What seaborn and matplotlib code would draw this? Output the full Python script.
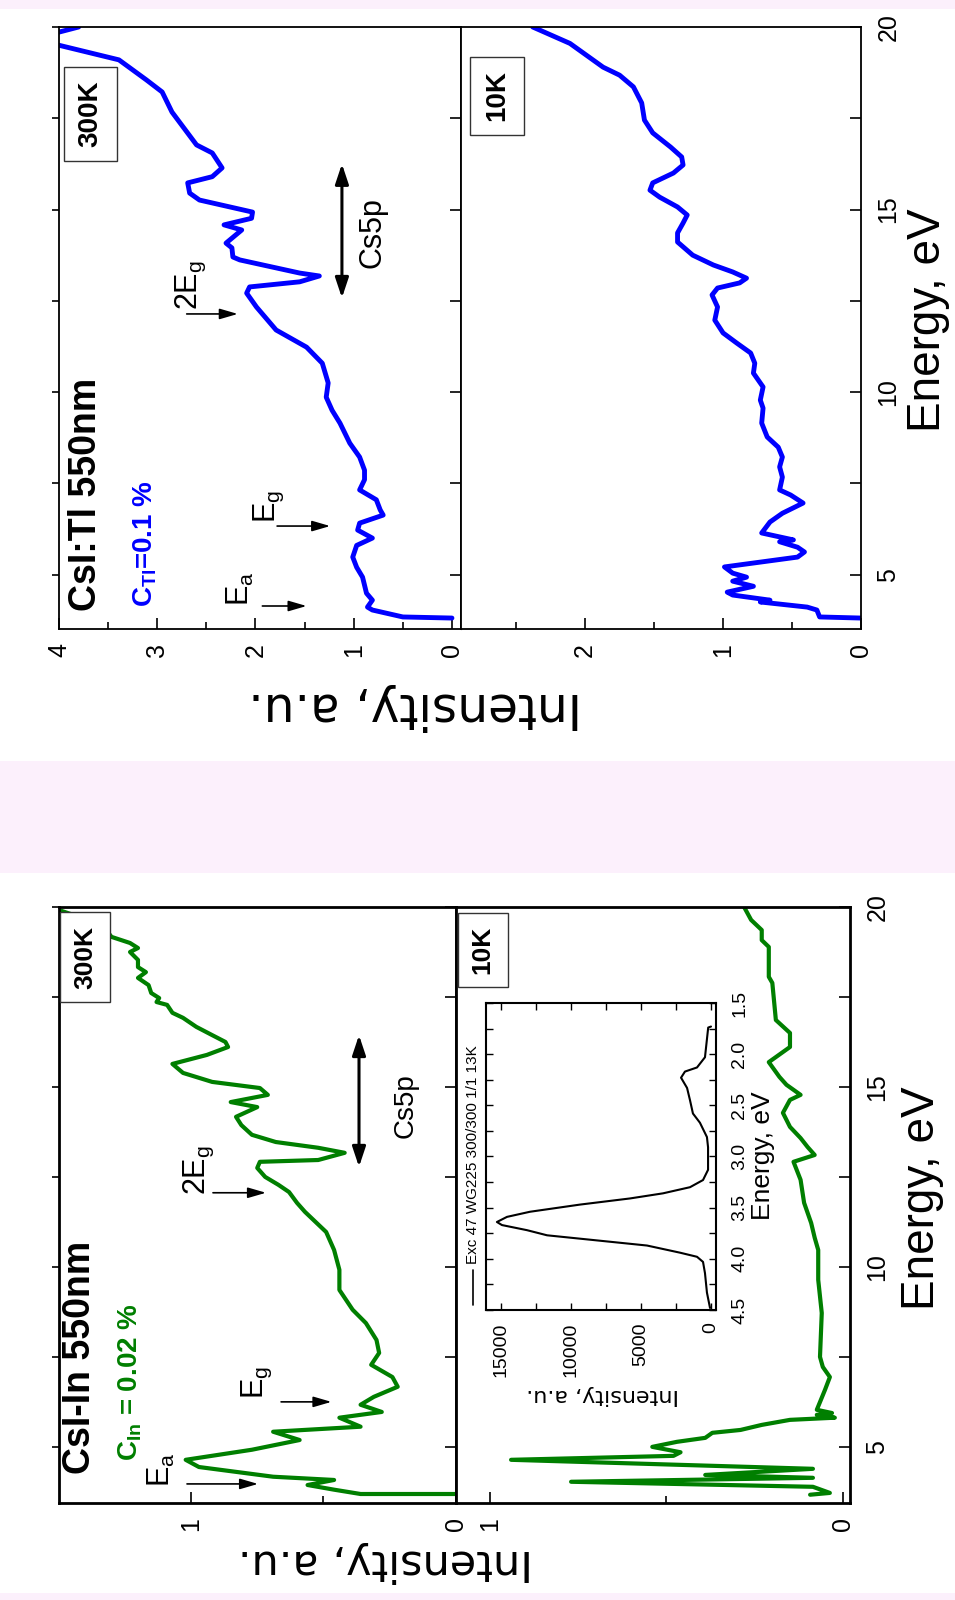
import matplotlib
matplotlib.use("Agg")
import matplotlib.pyplot as plt
import seaborn as sns
from matplotlib.patches import Rectangle
from matplotlib.lines import Line2D
from matplotlib.ticker import MultipleLocator, FixedLocator, FormatStrFormatter

# ---------------- data ----------------
# CsI:Tl, 300 K  (energy eV, intensity a.u.)
tl300_E = [20.0, 19.86, 19.68, 19.5, 19.1, 18.55, 18.22, 17.67, 16.77, 16.55, 16.14, 15.9, 15.73, 15.45, 15.26,
           14.93, 14.76, 14.58, 14.44, 14.08, 13.95, 13.7, 13.62, 13.26, 13.18, 13.02, 12.88, 12.71, 12.33, 11.7,
           11.23, 10.79, 10.25, 9.86, 9.5, 9.15, 8.6, 8.22, 7.86, 7.6, 7.32, 7.05, 6.77, 6.63, 6.41,
           6.22, 6.0, 5.8, 5.48, 5.2, 4.93, 4.49, 4.3, 4.11, 4.03, 3.84, 3.81]
tl300_I = [3.8, 4.0, 4.4, 4.0, 3.39, 3.11, 2.95, 2.85, 2.60, 2.44, 2.34, 2.44, 2.69, 2.67, 2.57,
           2.03, 2.04, 2.32, 2.14, 2.30, 2.24, 2.23, 2.16, 1.55, 1.35, 1.55, 2.06, 2.09, 1.99, 1.79,
           1.48, 1.32, 1.26, 1.28, 1.22, 1.14, 1.04, 0.94, 0.89, 0.89, 0.94, 0.77, 0.73, 0.70, 0.94,
           0.96, 0.81, 0.97, 1.01, 0.97, 0.91, 0.87, 0.81, 0.86, 0.81, 0.50, 0.0]

# CsI:Tl, 10 K
tl10_E = [20.0, 19.55, 18.9, 18.68, 18.36, 17.92, 17.45, 17.1, 16.71, 16.44, 16.22, 16.0, 15.73, 15.53, 15.34,
          15.07, 14.85, 14.63, 14.36, 14.11, 13.75, 13.48, 13.29, 13.12, 12.99, 12.85, 12.66, 12.33, 11.97, 11.62,
          11.34, 11.07, 10.79, 10.52, 10.14, 9.78, 9.56, 9.15, 8.77, 8.49, 8.22, 7.95, 7.67, 7.32, 7.18,
          6.96, 6.68, 6.44, 6.14, 5.95, 5.9, 5.75, 5.62, 5.48, 5.21, 5.04, 4.93, 4.82, 4.68, 4.52,
          4.44, 4.30, 4.25, 4.11, 4.03, 3.84, 3.81]
tl10_I = [2.38, 2.11, 1.87, 1.75, 1.65, 1.59, 1.57, 1.51, 1.38, 1.30, 1.29, 1.36, 1.51, 1.53, 1.46,
          1.33, 1.26, 1.29, 1.33, 1.33, 1.22, 1.07, 0.93, 0.83, 0.88, 1.04, 1.08, 1.04, 1.06, 1.0,
          0.90, 0.80, 0.77, 0.78, 0.71, 0.73, 0.71, 0.72, 0.68, 0.60, 0.57, 0.59, 0.57, 0.59, 0.51,
          0.42, 0.57, 0.66, 0.72, 0.49, 0.59, 0.46, 0.41, 0.46, 0.99, 0.93, 0.83, 0.93, 0.78, 0.97,
          0.93, 0.66, 0.73, 0.39, 0.32, 0.30, 0.0]

# CsI-In, 300 K
in300_E = [20.0, 19.92, 19.72, 19.36, 19.17, 19.0, 18.86, 18.75, 18.53, 18.33, 18.19, 18.03, 17.83, 17.61, 17.47,
           17.36, 17.28, 17.06, 16.92, 16.67, 16.44, 16.25, 16.11, 15.89, 15.64, 15.39, 15.14, 14.97, 14.78, 14.58,
           14.44, 14.17, 13.94, 13.67, 13.47, 13.31, 13.17, 12.97, 12.92, 12.75, 12.5, 12.28, 12.08, 11.78, 11.53,
           10.97, 10.47, 9.92, 9.36, 8.81, 8.44, 7.97, 7.61, 7.28, 6.94, 6.67, 6.39, 6.17, 5.97, 5.81,
           5.56, 5.42, 5.19, 4.92, 4.64, 4.44, 4.17, 4.08, 3.94, 3.81, 3.69, 3.69]
in300_I = [1.52, 1.50, 1.42, 1.32, 1.30, 1.23, 1.20, 1.23, 1.20, 1.20, 1.17, 1.20, 1.16, 1.15, 1.12,
           1.13, 1.09, 1.07, 1.03, 0.98, 0.92, 0.87, 0.86, 0.94, 1.07, 1.03, 0.92, 0.74, 0.71, 0.85,
           0.75, 0.83, 0.81, 0.77, 0.68, 0.52, 0.42, 0.52, 0.74, 0.75, 0.72, 0.67, 0.63, 0.60, 0.57,
           0.49, 0.46, 0.44, 0.44, 0.39, 0.34, 0.30, 0.29, 0.32, 0.24, 0.22, 0.31, 0.36, 0.28, 0.44,
           0.36, 0.69, 0.59, 0.77, 1.02, 0.97, 0.69, 0.46, 0.56, 0.46, 0.36, 0.0]

# CsI-In, 10 K
in10_E = [20.0, 19.64, 19.36, 19.08, 18.89, 18.06, 17.89, 16.86, 16.5, 16.11, 15.69, 15.28, 15.06, 14.78, 14.64,
          14.28, 13.89, 13.58, 13.33, 13.11, 12.92, 12.42, 11.78, 11.22, 10.81, 10.47, 9.64, 8.72, 7.5, 7.22,
          6.94, 6.58, 6.03, 5.94, 5.89, 5.81, 5.75, 5.61, 5.47, 5.39, 5.25, 5.14, 5.0, 4.85, 4.75,
          4.64, 4.39, 4.22, 4.14, 4.03, 3.89, 3.72, 3.67]
in10_I = [0.28, 0.26, 0.23, 0.23, 0.21, 0.21, 0.20, 0.19, 0.15, 0.15, 0.21, 0.18, 0.16, 0.12, 0.15,
          0.17, 0.15, 0.12, 0.10, 0.08, 0.14, 0.12, 0.11, 0.09, 0.08, 0.07, 0.07, 0.06, 0.065, 0.057,
          0.037, 0.051, 0.074, 0.031, 0.074, 0.023, 0.15, 0.23, 0.29, 0.37, 0.39, 0.47, 0.54, 0.46, 0.48,
          0.94, 0.085, 0.39, 0.085, 0.77, 0.085, 0.037, 0.093]

# inset: luminescence spectrum "Exc 47 WG225 300/300 1/1 13K"
inset_E = [1.73, 1.74, 2.03, 2.13, 2.17, 2.23, 2.33, 2.45, 2.58, 2.67, 2.81, 2.91, 3.13, 3.23, 3.30, 3.36,
           3.41, 3.47, 3.54, 3.59, 3.64, 3.67, 3.72, 3.77, 3.82, 3.87, 3.94, 3.98, 4.03, 4.14, 4.33, 4.48]
inset_I = [0, 200, 430, 1000, 1860, 2140, 1710, 1500, 1290, 790, 290, 210, 210, 570, 1500, 3430,
           5790, 9360, 12930, 14570, 15290, 14930, 13140, 11710, 8140, 4570, 2210, 1000, 570, 430, 290, 70]

tl_int_ticks = [0, 1, 2, 3, 4]
tl10_int_ticks = [0, 1, 2]
in_int_ticks = [0, 1]
inset_int_ticks = [0, 5000, 10000, 15000]

# ---------------- style ----------------
sns.set_style("ticks")
plt.rcParams.update({
    "font.family": ["Liberation Sans", "DejaVu Sans"],
    "mathtext.fontset": "custom",
    "mathtext.rm": "Liberation Sans",
    "mathtext.bf": "Liberation Sans:bold",
    "mathtext.it": "Liberation Sans:italic",
    "axes.edgecolor": "black",
    "xtick.color": "black",
    "ytick.color": "black",
    "text.color": "black",
})

W, H = 955, 1600
fig = plt.figure(figsize=(W / 100, H / 100), dpi=100, facecolor="#fcf0fc")


def rect(x0, y0, x1, y1):
    return [x0 / W, 1 - y1 / H, (x1 - x0) / W, (y1 - y0) / H]


def fpos(px, py):
    return px / W, 1 - py / H


fig.add_artist(Rectangle((0, 1 - 761 / H), 1, (761 - 9) / H, transform=fig.transFigure,
                         fc="white", ec="none", zorder=0))
fig.add_artist(Rectangle((0, 1 - 1593 / H), 1, (1593 - 873) / H, transform=fig.transFigure,
                         fc="white", ec="none", zorder=0))

ax_tl = fig.add_axes(rect(59, 27, 461, 629))
ax_tr = fig.add_axes(rect(461, 27, 861, 629))
ax_bl = fig.add_axes(rect(59, 907, 456, 1503))
ax_br = fig.add_axes(rect(456, 907, 850, 1503))
ax_in = fig.add_axes(rect(486, 1003, 716, 1310))

BLUE = "#0000ff"
GREEN = "#007f00"
line_kw = dict(sort=False, estimator=None, solid_joinstyle="round", solid_capstyle="round")

sns.lineplot(x=tl300_I, y=tl300_E, color=BLUE, lw=3.5, ax=ax_tl, **line_kw)
sns.lineplot(x=tl10_I, y=tl10_E, color=BLUE, lw=3.5, ax=ax_tr, **line_kw)
sns.lineplot(x=in300_I, y=in300_E, color=GREEN, lw=3.0, ax=ax_bl, **line_kw)
sns.lineplot(x=in10_I, y=in10_E, color=GREEN, lw=3.0, ax=ax_br, **line_kw)
sns.lineplot(x=inset_I, y=inset_E, color="black", lw=1.5, ax=ax_in, **line_kw)


def base(ax, xlim, ylim, xmajor, spine_lw):
    ax.set_xlim(*xlim)
    ax.set_ylim(*ylim)
    ax.set_xlabel("")
    ax.set_ylabel("")
    for s in ax.spines.values():
        s.set_linewidth(spine_lw)
        s.set_color("black")
    ax.xaxis.set_major_locator(FixedLocator(xmajor))
    ax.xaxis.set_minor_locator(MultipleLocator(0.5))
    ax.xaxis.set_major_formatter(FormatStrFormatter("%d"))
    ax.tick_params(axis="x", which="both", direction="in", bottom=True, top=False,
                   labelbottom=True, labelrotation=90, pad=10, labelsize=18, width=1.2)
    ax.tick_params(axis="x", which="major", length=8)
    ax.tick_params(axis="x", which="minor", length=5)
    ax.yaxis.set_major_locator(MultipleLocator(5))
    ax.yaxis.set_minor_locator(MultipleLocator(2.5))
    ax.yaxis.set_major_formatter(FormatStrFormatter("%d"))


def left_panel(ax):
    ax.tick_params(axis="y", which="both", direction="out", left=True, right=False,
                   labelleft=False, length=5, width=1.2)
    sec = ax.secondary_yaxis("right")
    sec.yaxis.set_major_locator(MultipleLocator(5))
    sec.yaxis.set_minor_locator(MultipleLocator(2.5))
    sec.tick_params(axis="y", which="both", direction="in", length=8, width=1.2,
                    labelright=False)


def right_panel(ax):
    ax.tick_params(axis="y", which="both", direction="in", left=False, right=True,
                   labelleft=False, labelright=True, labelrotation=90, pad=11,
                   labelsize=18, length=8, width=1.2)
    plt.setp(ax.get_yticklabels(), va="center")


base(ax_tl, (4, -0.092), (3.51, 20), tl_int_ticks, 1.3)
base(ax_tr, (2.90, 0), (3.51, 20), tl10_int_ticks, 1.3)
base(ax_bl, (1.498, 0), (3.44, 20), in_int_ticks, 2.0)
base(ax_br, (1.096, -0.02), (3.44, 20), in_int_ticks, 2.0)
left_panel(ax_tl)
left_panel(ax_bl)
right_panel(ax_tr)
right_panel(ax_br)

# inset axes
ax_in.set_xlim(16070, -357)
ax_in.set_ylim(4.5, 1.5)
ax_in.set_xlabel("")
ax_in.set_ylabel("")
for s in ax_in.spines.values():
    s.set_linewidth(1.5)
    s.set_color("black")
ax_in.xaxis.set_major_locator(FixedLocator(inset_int_ticks))
ax_in.xaxis.set_minor_locator(MultipleLocator(2500))
ax_in.xaxis.set_major_formatter(FormatStrFormatter("%d"))
ax_in.yaxis.set_major_locator(MultipleLocator(0.5))
ax_in.yaxis.set_minor_locator(MultipleLocator(0.25))
ax_in.yaxis.set_major_formatter(FormatStrFormatter("%.1f"))
ax_in.tick_params(axis="both", which="both", direction="in", top=True, bottom=True,
                  left=True, right=True, labelleft=False, labelright=True,
                  labelbottom=True, labeltop=False, labelrotation=90, labelsize=14,
                  width=1.0, length=5)
ax_in.tick_params(axis="x", pad=9)
ax_in.tick_params(axis="y", pad=11)
plt.setp(ax_in.get_yticklabels(), va="center")


# ---------------- annotations ----------------
def label_box(ax, x, y, s, size):
    ax.text(x, y, s, rotation=90, ha="center", va="center", fontsize=size, fontweight="bold",
            bbox=dict(boxstyle="square,pad=0.5", fc="white", ec="#333333", lw=1.0), zorder=5)


def arrow(ax, x0, x1, y):
    ax.annotate("", xy=(x1, y), xytext=(x0, y),
                arrowprops=dict(arrowstyle="-|>,head_length=0.55,head_width=0.16", color="k",
                                lw=1.2, shrinkA=0, shrinkB=0, mutation_scale=20))


def darrow(ax, x, y0, y1):
    ax.annotate("", xy=(x, y1), xytext=(x, y0),
                arrowprops=dict(arrowstyle="<|-|>,head_length=0.6,head_width=0.2", color="k",
                                lw=2.2, shrinkA=0, shrinkB=0, mutation_scale=20))


def rtext(ax, x, y, s, size, **kw):
    ax.text(x, y, s, rotation=90, ha="center", va="center", fontsize=size, **kw)


# CsI:Tl 300K
label_box(ax_tl, 3.68, 17.62, "300K", 20)
rtext(ax_tl, 3.73, 7.21, "CsI:Tl 550nm", 27, fontweight="bold")
rtext(ax_tl, 3.12, 5.84, r"C$_{\mathbf{Tl}}$=0.1 %", 20, fontweight="bold", color=BLUE)
rtext(ax_tl, 2.15, 4.60, r"E$_\mathrm{a}$", 22)
arrow(ax_tl, 1.93, 1.48, 4.14)
rtext(ax_tl, 1.86, 6.88, r"E$_\mathrm{g}$", 22)
arrow(ax_tl, 1.78, 1.24, 6.33)
rtext(ax_tl, 2.66, 12.93, r"2E$_\mathrm{g}$", 22)
arrow(ax_tl, 2.70, 2.18, 12.14)
darrow(ax_tl, 1.12, 12.58, 16.25)
rtext(ax_tl, 0.81, 14.38, "Cs5p", 22)

# CsI:Tl 10K
label_box(ax_tr, 2.64, 18.11, "10K", 20)

# CsI-In 300K
label_box(ax_bl, 1.40, 18.61, "300K", 19)
rtext(ax_bl, 1.42, 7.5, "CsI-In 550nm", 27, fontweight="bold")
rtext(ax_bl, 1.23, 6.81, r"C$_{\mathbf{In}}$ = 0.02 %", 20, fontweight="bold", color=GREEN)
rtext(ax_bl, 1.11, 4.36, r"E$_\mathrm{a}$", 22)
arrow(ax_bl, 1.015, 0.747, 3.97)
rtext(ax_bl, 0.75, 6.78, r"E$_\mathrm{g}$", 22)
arrow(ax_bl, 0.66, 0.47, 6.25)
rtext(ax_bl, 0.97, 12.69, r"2E$_\mathrm{g}$", 22)
arrow(ax_bl, 0.917, 0.717, 12.06)
darrow(ax_bl, 0.366, 12.78, 16.44)
rtext(ax_bl, 0.19, 14.47, "Cs5p", 20)

# CsI-In 10K
label_box(ax_br, 1.02, 18.81, "10K", 19)

# axis titles
WIDE = ["DejaVu Sans"]
fig.text(*fpos(928, 320), "Energy, eV", rotation=90, ha="center", va="center", fontsize=33)
fig.text(*fpos(922, 1198), "Energy, eV", rotation=90, ha="center", va="center", fontsize=33)
fig.text(*fpos(415, 707), "Intensity, a.u.", rotation=180, ha="center", va="center", fontsize=35,
         family=WIDE)
fig.text(*fpos(385, 1562), "Intensity, a.u.", rotation=180, ha="center", va="center", fontsize=31,
         family=WIDE)
fig.text(*fpos(763, 1156), "Energy, eV", rotation=90, ha="center", va="center", fontsize=19)
fig.text(*fpos(603, 1395), "Intensity, a.u.", rotation=180, ha="center", va="center", fontsize=16,
         family=WIDE)

# inset legend
fig.add_artist(Line2D([473 / W, 473 / W], [1 - 1305 / H, 1 - 1270 / H], transform=fig.transFigure,
                      color="black", lw=1.2))
fig.text(*fpos(473, 1264), "Exc 47 WG225 300/300 1/1 13K", rotation=90, ha="center", va="bottom",
         fontsize=11)

fig.savefig("out.png", dpi=100, facecolor=fig.get_facecolor())
